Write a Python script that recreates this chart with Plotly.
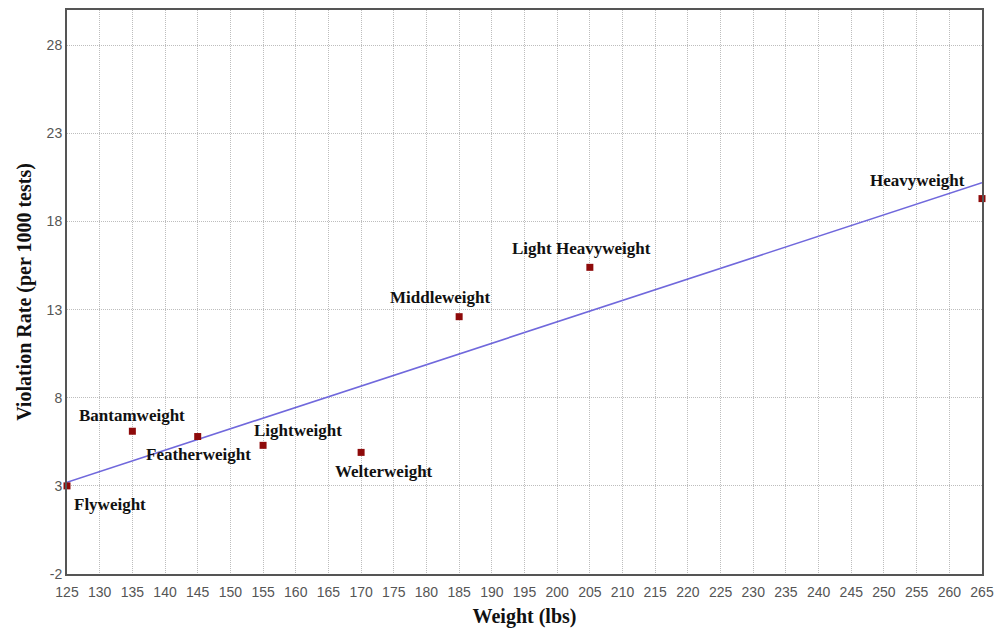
import plotly.graph_objects as go

# Data
classes = ["Flyweight", "Bantamweight", "Featherweight", "Lightweight",
           "Welterweight", "Middleweight", "Light Heavyweight", "Heavyweight"]
weights = [125, 135, 145, 155, 170, 185, 205, 265]
rates = [3.0, 6.1, 5.8, 5.3, 4.9, 12.6, 15.4, 19.3]

trend_x = [125, 265]
trend_y = [3.2, 20.2]

x_ticks = list(range(125, 266, 5))
y_ticks = [-2, 3, 8, 13, 18, 23, 28]
y_tick_text = ["-2", "3", "8", "13", "18", "23", "28"]

# label offsets (pixels): (xshift, yshift, xanchor)
label_style = {
    "Flyweight": (5, -19, "left"),
    "Bantamweight": (0, 16, "center"),
    "Featherweight": (1, -18, "center"),
    "Lightweight": (-11, 15, "left"),
    "Welterweight": (23, -19, "center"),
    "Middleweight": (-19, 19, "center"),
    "Light Heavyweight": (-8, 19, "center"),
    "Heavyweight": (-65, 18, "center"),
}

fig = go.Figure()
fig.add_trace(go.Scatter(x=trend_x, y=trend_y, mode="lines",
                         line=dict(color="#7068dc", width=1.6),
                         showlegend=False, hoverinfo="skip"))
fig.add_trace(go.Scatter(x=weights, y=rates, mode="markers",
                         marker=dict(symbol="square", size=7, color="#8e0a0a"),
                         showlegend=False, cliponaxis=False))

for name, xv, yv in zip(classes, weights, rates):
    xs, ys, xa = label_style[name]
    fig.add_annotation(x=xv, y=yv, text="<b>" + name + "</b>", showarrow=False,
                       xshift=xs, yshift=ys, xanchor=xa, yanchor="middle",
                       font=dict(family="Liberation Serif", size=17, color="#111"))

axis_common = dict(showgrid=True, gridcolor="#bdbdbd", griddash="1px,1px", gridwidth=1,
                   showline=True, linecolor="#555", linewidth=2, mirror=True,
                   zeroline=False, ticks="", automargin=False,
                   tickfont=dict(family="Liberation Sans Narrow, Arial", size=14, color="#555"))

fig.update_layout(
    width=1003, height=629,
    margin=dict(l=67, r=21, t=10, b=55),
    paper_bgcolor="white", plot_bgcolor="white",
    xaxis=dict(range=[125, 265], tickvals=x_ticks, ticklabelstandoff=4,
               title=dict(text="<b>Weight (lbs)</b>", standoff=10,
                          font=dict(family="Liberation Serif", size=20, color="#111")),
               **axis_common),
    yaxis=dict(range=[-2, 30], tickvals=y_ticks, ticktext=y_tick_text,
               title=dict(text="<b>Violation Rate (per 1000 tests)</b>", standoff=10,
                          font=dict(family="Liberation Serif", size=20, color="#111")),
               **axis_common),
)

fig.write_html("out.html", config={"displayModeBar": False},
               post_script="document.body.style.margin='0';")
